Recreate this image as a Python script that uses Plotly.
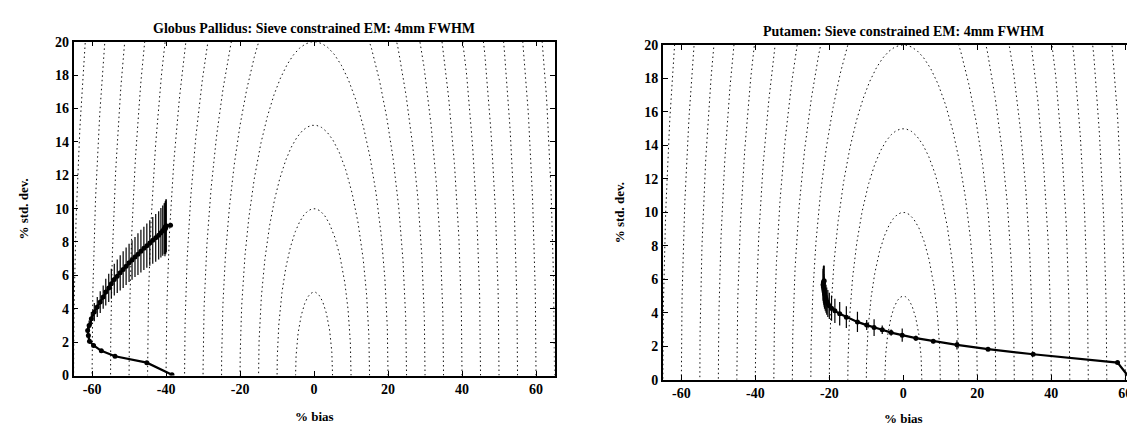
import numpy as np
import plotly.graph_objects as go

# ---------------- data ----------------
# Globus Pallidus (left panel)
gp_bias = [-38.4, -45.2, -53.8, -57.5, -59.6, -60.7, -61.0, -61.2, -60.8, -60.2, -59.4,
           -58.6, -57.8, -57.0, -56.3, -55.5, -54.8, -54.0, -53.2, -52.4, -51.6, -50.8,
           -50.0, -49.2, -48.4, -47.6, -46.8, -46.0, -45.2, -44.4, -43.6, -42.8, -42.0,
           -41.4, -40.9, -40.5, -40.2, -40.0, -40.1, -40.3, -40.0, -38.8]
gp_std = [0.04, 0.77, 1.15, 1.48, 1.80, 2.06, 2.40, 2.70, 3.00, 3.40, 3.80,
          4.10, 4.40, 4.70, 5.00, 5.25, 5.50, 5.75, 5.95, 6.15, 6.35, 6.55,
          6.75, 6.92, 7.10, 7.27, 7.45, 7.62, 7.78, 7.94, 8.10, 8.25, 8.40,
          8.55, 8.68, 8.80, 8.90, 8.95, 8.85, 8.75, 8.98, 9.00]
gp_err = [0.03, 0.06, 0.08, 0.10, 0.12, 0.15, 0.20, 0.25, 0.30, 0.40, 0.55,
          0.60, 0.65, 0.70, 0.80, 0.85, 0.90, 0.95, 1.00, 1.05, 1.10, 1.12,
          1.15, 1.18, 1.20, 1.25, 1.28, 1.30, 1.33, 1.36, 1.40, 1.43, 1.45,
          1.48, 1.50, 1.52, 1.55, 1.57, 1.58, 1.60, 1.60, 0.10]

# Putamen (right panel)
pu_bias = [61.4, 57.9, 35.1, 22.9, 14.5, 8.1, 3.4, -0.3, -3.3, -5.7, -7.9, -9.9,
           -12.4, -15.4, -17.2, -18.5, -19.4, -20.0, -20.4, -20.7, -20.9, -21.1,
           -21.3, -21.4, -21.5, -21.6, -21.7, -21.6, -21.5, -21.4]
pu_std = [0.05, 1.03, 1.53, 1.83, 2.09, 2.30, 2.49, 2.67, 2.82, 2.99, 3.12, 3.27,
          3.46, 3.74, 3.95, 4.12, 4.28, 4.42, 4.56, 4.70, 4.84, 4.98,
          5.12, 5.26, 5.40, 5.54, 5.68, 5.80, 5.88, 5.92]
pu_err = [0.02, 0.05, 0.08, 0.10, 0.28, 0.12, 0.15, 0.40, 0.18, 0.25, 0.50, 0.30,
          0.60, 0.65, 0.70, 0.72, 0.75, 0.78, 0.80, 0.82, 0.84, 0.86,
          0.88, 0.90, 0.92, 0.94, 0.96, 0.98, 0.95, 0.90]

# RMSE iso-contour radii (sqrt(bias^2 + std^2) = r)
contour_radii = [5, 10, 15, 20, 25, 30, 35, 40, 45, 50, 55, 60, 65]

x_ticks = [-60, -40, -20, 0, 20, 40, 60]
x_tick_labels = ["-60", "-40", "-20", "0", "20", "40", "60"]
y_ticks = [0, 2, 4, 6, 8, 10, 12, 14, 16, 18, 20]
y_tick_labels = ["0", "2", "4", "6", "8", "10", "12", "14", "16", "18", "20"]

titles = ["Globus Pallidus: Sieve constrained EM: 4mm FWHM",
          "Putamen: Sieve constrained EM: 4mm FWHM"]
x_title = "% bias"
y_title = "% std. dev."

# ---------------- figure ----------------
W, H = 1135, 431
FONT = "Liberation Serif"

fig = go.Figure()

for k, (xa, ya) in enumerate([("x", "y"), ("x2", "y2")]):
    for r in contour_radii:
        t = np.linspace(0, np.pi, 400)
        fig.add_trace(go.Scatter(
            x=r * np.cos(t), y=r * np.sin(t), mode="lines",
            line=dict(color="#111111", width=1, dash="1.5px,3px"),
            hoverinfo="skip", showlegend=False, xaxis=xa, yaxis=ya))

curve_style = dict(mode="lines+markers",
                   line=dict(color="black", width=2.2),
                   marker=dict(color="black", size=5),
                   showlegend=False)

fig.add_trace(go.Scatter(x=gp_bias, y=gp_std,
                         error_y=dict(type="data", array=gp_err, color="black",
                                      thickness=1.2, width=0),
                         xaxis="x", yaxis="y", **curve_style))
fig.add_trace(go.Scatter(x=pu_bias, y=pu_std,
                         error_y=dict(type="data", array=pu_err, color="black",
                                      thickness=1.2, width=0),
                         xaxis="x2", yaxis="y2", **curve_style))

tickfont = dict(family=FONT, size=14, color="black", weight="bold")
ax_common = dict(showgrid=False, zeroline=False, showline=True, linecolor="black",
                 linewidth=1.5, mirror="ticks", ticks="inside", ticklen=5,
                 tickwidth=1, tickcolor="black", tickfont=tickfont)

# pixel geometry
L1, R1, T1, B1 = 65.7, 547.5, 27.7, 373.5
L2, T2, B2 = 656.0, 31.0, 378.0
px_per_unit = (R1 - L1) / 130.0
R2 = W
x2_max = -65 + (R2 - L2) / px_per_unit

fig.update_layout(
    width=W, height=H,
    margin=dict(l=0, r=0, t=0, b=0),
    paper_bgcolor="white", plot_bgcolor="white",
    xaxis=dict(domain=[L1 / W, R1 / W], range=[-65, 65], tickvals=x_ticks,
               ticktext=x_tick_labels, anchor="y", **ax_common),
    yaxis=dict(domain=[1 - B1 / H, 1 - T1 / H], range=[0, 20], tickvals=y_ticks,
               ticktext=y_tick_labels, anchor="x", **ax_common),
    xaxis2=dict(domain=[L2 / W, 1.0], range=[-65, x2_max], tickvals=x_ticks,
                ticktext=x_tick_labels, anchor="y2", **ax_common),
    yaxis2=dict(domain=[1 - B2 / H, 1 - T2 / H], range=[0, 20], tickvals=y_ticks,
                ticktext=y_tick_labels, anchor="x2", **ax_common),
)

def ann(text, px, py, size, angle=0, bold=True):
    fig.add_annotation(text=text, x=px / W, y=1 - py / H, xref="paper", yref="paper",
                       xanchor="center", yanchor="middle", showarrow=False,
                       textangle=angle,
                       font=dict(family=FONT, size=size, color="black",
                                 weight="bold" if bold else "normal"))

c1 = L1 + 65 * px_per_unit
c2 = L2 + 65 * px_per_unit
ann(titles[0], c1, 14, 14)
ann(titles[1], c2, 17, 14)
ann(x_title, c1, 416, 13)
ann(x_title, c2, 418, 13)
ann(y_title, 16, (T1 + B1) / 2, 13, angle=-90)
ann(y_title, 612, (T2 + B2) / 2, 13, angle=-90)

fig.write_html("out.html")
